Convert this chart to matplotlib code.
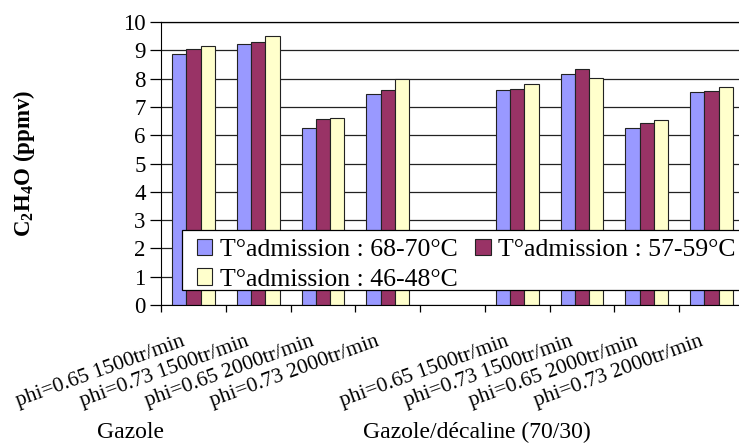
import numpy as np
import matplotlib
matplotlib.use('Agg')
import matplotlib.pyplot as plt
from matplotlib.patches import Rectangle
from matplotlib.transforms import ScaledTranslation, blended_transform_factory

plt.rcParams['font.family'] = ['Liberation Serif', 'DejaVu Serif']
plt.rcParams['mathtext.fontset'] = 'custom'
plt.rcParams['mathtext.rm'] = 'Liberation Serif'
plt.rcParams['mathtext.bf'] = 'Liberation Serif:bold'

# categories (the empty one is the gap between the two fuels)
categories = ['phi=0.65 1500tr/min', 'phi=0.73 1500tr/min',
              'phi=0.65 2000tr/min', 'phi=0.73 2000tr/min', '',
              'phi=0.65 1500tr/min', 'phi=0.73 1500tr/min',
              'phi=0.65 2000tr/min', 'phi=0.73 2000tr/min']
groups = ['Gazole', 'Gazole/décaline (70/30)']

series_names = ['T°admission : 68-70°C', 'T°admission : 57-59°C',
                'T°admission : 46-48°C']
t_68_70 = [8.88, 9.24, 6.24, 7.46, np.nan, 7.58, 8.18, 6.25, 7.53]
t_57_59 = [9.06, 9.31, 6.56, 7.61, np.nan, 7.62, 8.34, 6.42, 7.56]
t_46_48 = [9.15, 9.52, 6.62, 7.98, np.nan, 7.82, 8.01, 6.54, 7.69]
colors = ['#9999FF', '#993366', '#FFFFCC']
#%%

fig = plt.figure(figsize=(7.39, 4.44), dpi=100)
ax = fig.add_axes([161 / 739, 1 - 305 / 444, 583 / 739, 283 / 444])

x = np.arange(len(categories))
w = 0.22
bars = []
for i, (vals, name, col) in enumerate(zip([t_68_70, t_57_59, t_46_48],
                                          series_names, colors)):
    b = ax.bar(x + (i - 1) * w, vals, width=w, color=col, edgecolor='#222222',
               linewidth=0.8, label=name, zorder=2)
    bars.append(b)

ax.set_xlim(-0.5, len(categories) - 0.5)
ax.set_ylim(0, 10)
ax.set_yticks(range(0, 11))
ax.yaxis.grid(True, color='#222222', linewidth=0.9)
ax.set_axisbelow(True)
ax.spines['right'].set_visible(False)
ax.spines['top'].set_linewidth(0.9)
ax.tick_params(axis='y', labelsize=16.5, length=8, width=0.9, direction='out',
               pad=3)

# tick marks between categories, labels drawn as rotated texts
ax.set_xticks(np.arange(-0.5, len(categories), 1.0))
ax.tick_params(axis='x', length=5, width=0.9, labelbottom=False)
trans = blended_transform_factory(ax.transData, ax.transAxes) + \
    ScaledTranslation(-8 / 100, -40 / 100, fig.dpi_scale_trans)
for xi, lab in zip(x, categories):
    ax.text(xi, 0, lab, transform=trans, fontsize=15.5, rotation=20,
            rotation_mode='anchor', ha='right', va='baseline')

ax.set_ylabel(r'$\mathbf{C_2H_4O}$ (ppmv)', fontsize=16.5, fontweight='bold')
ax.yaxis.set_label_coords((37 - 161) / 583, 0.5)

fig.text(131 / 739, 1 - 438 / 444, groups[0], fontsize=17, ha='center',
         va='baseline')
fig.text(476.5 / 739, 1 - 438 / 444, groups[1], fontsize=17, ha='center',
         va='baseline')

# legend box (runs off the right edge like the original)
ax.add_patch(Rectangle((182 / 739, 1 - 290 / 444), 570 / 739, 60 / 444,
                       transform=fig.transFigure, facecolor='white',
                       edgecolor='black', linewidth=0.9, zorder=4,
                       clip_on=False))

# row-wise order: 68-70 | 57-59 on the first line, 46-48 below
order = [0, 2, 1]
leg = ax.legend([bars[k] for k in order], [series_names[k] for k in order],
                ncol=2, loc='upper left', mode='expand',
                bbox_to_anchor=(197 / 739, 1 - 295 / 444, 539 / 739, 56 / 444),
                bbox_transform=fig.transFigure, fontsize=18.5,
                frameon=False, borderaxespad=0, borderpad=0,
                handlelength=0.6, handleheight=0.6, handletextpad=0.3,
                columnspacing=0.35, labelspacing=0.28)
leg.set_zorder(5)

fig.savefig('out.png', dpi=100)
